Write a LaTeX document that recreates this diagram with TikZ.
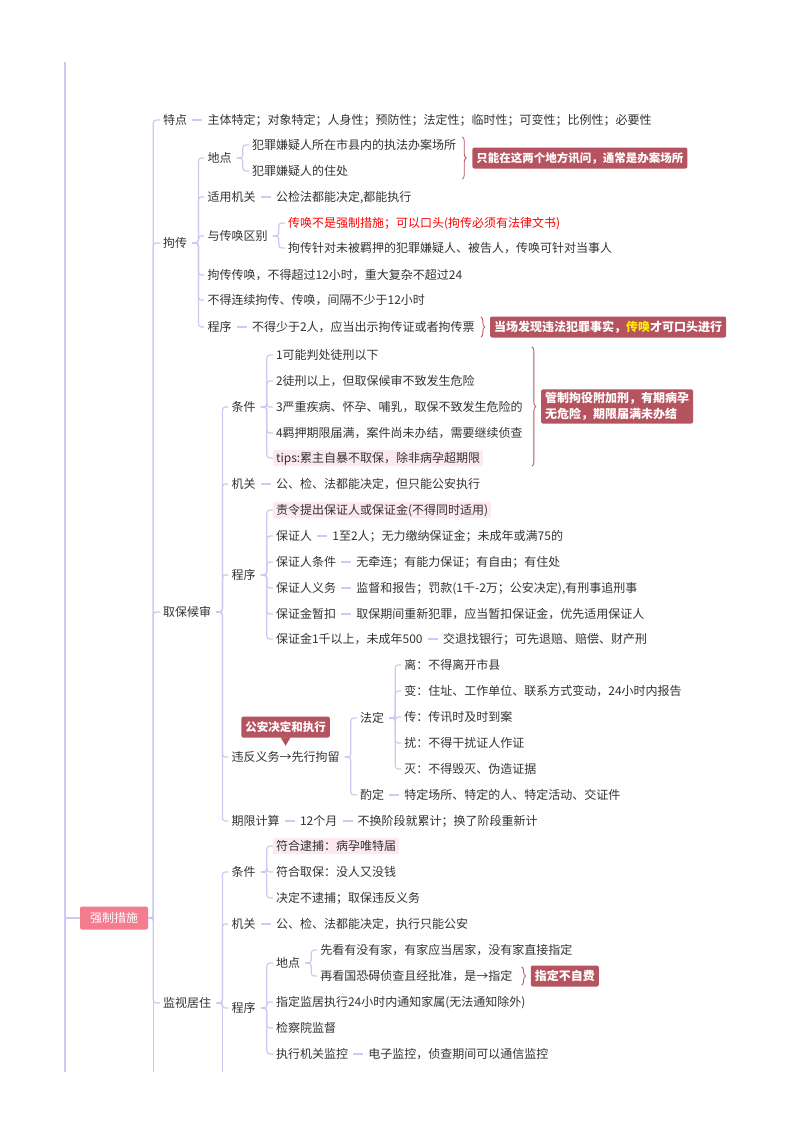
\documentclass[tikz,border=0pt]{standalone}
\usepackage{fontspec}
\setmainfont{Noto Sans CJK SC}
\usetikzlibrary{decorations.pathreplacing,calc}
\definecolor{lnc}{RGB}{206,201,242}
\definecolor{tc}{RGB}{51,51,51}
\definecolor{rootc}{RGB}{243,124,143}
\definecolor{callc}{RGB}{181,83,95}
\definecolor{hl}{RGB}{253,234,240}
\definecolor{yl}{RGB}{255,236,0}
\definecolor{rd}{RGB}{255,0,0}
\newcommand\kid[5][t]{\path (#2.east) ++(14,0) coordinate (kidtmp); \node[#1] (#3) at (kidtmp |- 0,#4) {#5};}
\begin{document}
\begin{tikzpicture}[x=1pt,y=-1pt,
 t/.style={anchor=west, inner xsep=3pt, inner ysep=2pt, text height=10.5pt, text depth=1.5pt, text=tc, font=\fontsize{12}{14}\selectfont},
 hlt/.style={t, fill=hl},
 cn/.style={draw=lnc, line width=1.2pt, rounded corners=3pt, shorten <=2pt},
 one/.style={draw=lnc, line width=1.2pt, shorten <=2pt, shorten >=2pt},
 spine/.style={draw=lnc, line width=1.2pt},
 rootbox/.style={fill=rootc, text=white, font=\fontsize{12}{14}\selectfont, rounded corners=2pt, inner sep=0pt, minimum width=68pt, minimum height=23pt, text height=10.5pt, text depth=1.5pt},
 callbase/.style={fill=callc, text=white, font=\bfseries\fontsize{12}{16}\selectfont, rounded corners=2pt, inner xsep=4pt, anchor=west},
 callout/.style={callbase, inner ysep=4.5pt, text height=10.5pt, text depth=1.5pt},
 br/.style={draw=callc, line width=0.8pt, decorate, decoration={brace, amplitude=4pt}},
]
\fill[white] (0,0) rectangle (800,1132);
\useasboundingbox (0,0) rectangle (800,1132);

% outer spine and root
\coordinate (ltop) at (65,62);
\coordinate (lbot) at (65,1072);
\coordinate (lroot) at (65,918);
\draw[spine, line width=1.6pt] (ltop) -- (lbot);
\node[rootbox] (root) at (114,918) {强制措施};
\draw[spine] (lroot) -- (root.west);
\path (root.east) ++(5,0) coordinate (rsx);
\coordinate (rsb) at (153,1072);
\draw[spine] (root.east) -- (rsx) -- (rsx |- rsb);

% level 1
\node[t] (tedian) at (160,120) {特点};
\node[t] (jc) at (160,243) {拘传};
\node[t] (qb) at (160,612) {取保候审};
\node[t] (js) at (160,1003) {监视居住};
\foreach \c in {tedian,jc,qb,js}{\draw[cn, shorten <=0pt] (root.east) -- ++(5,0) |- (\c.west);}

% 特点
\kid{tedian}{td1}{120}{主体特定；对象特定；人身性；预防性；法定性；临时性；可变性；比例性；必要性}
\draw[one] (tedian.east) -- (td1.west);

% 拘传
\kid{jc}{jcdd}{158}{地点}
\kid{jc}{jcjg}{197}{适用机关}
\kid{jc}{jcqb}{236}{与传唤区别}
\kid{jc}{jc4}{275}{拘传传唤，不得超过12小时，重大复杂不超过24}
\kid{jc}{jc5}{300}{不得连续拘传、传唤，间隔不少于12小时}
\kid{jc}{jccx}{327}{程序}
\foreach \c in {jcdd,jcjg,jcqb,jc4,jc5,jccx}{\draw[cn] (jc.east) -- ++(8,0) |- (\c.west);}

\kid{jcdd}{dd1}{145}{犯罪嫌疑人所在市县内的执法办案场所}
\kid{jcdd}{dd2}{171}{犯罪嫌疑人的住处}
\foreach \c in {dd1,dd2}{\draw[cn] (jcdd.east) -- ++(8,0) |- (\c.west);}
\path ([xshift=3pt]dd1.north east) coordinate (b1a) (b1a |- dd2.south) coordinate (b1b);
\draw[br] (b1a) -- (b1b);
\node[callout, font=\bfseries\fontsize{11.5}{16}\selectfont] (co1) at ($(b1a)!0.5!(b1b)+(10,0)$) {只能在这两个地方讯问，通常是办案场所};

\kid{jcjg}{jg1}{197}{公检法都能决定,都能执行}
\draw[one] (jcjg.east) -- (jg1.west);

\kid{jcqb}{qb1}{223}{\textcolor{rd}{传唤不是强制措施；可以口头(拘传必须有法律文书)}}
\kid{jcqb}{qb2}{248}{拘传针对未被羁押的犯罪嫌疑人、被告人，传唤可针对当事人}
\foreach \c in {qb1,qb2}{\draw[cn] (jcqb.east) -- ++(8,0) |- (\c.west);}

\kid{jccx}{cx1}{327}{不得少于2人，应当出示拘传证或者拘传票}
\draw[one] (jccx.east) -- (cx1.west);
\path ([xshift=3pt,yshift=2pt]cx1.north east) coordinate (b2a) ([xshift=3pt,yshift=-2pt]cx1.south east) coordinate (b2b);
\draw[br] (b2a) -- (b2b);
\node[callout] (co2) at ($(b2a)!0.5!(b2b)+(9,0)$) {当场发现违法犯罪事实，\textcolor{yl}{传唤}才可口头进行};

% 取保候审
\kid{qb}{qbtj}{407}{条件}
\kid{qb}{qbjg}{484}{机关}
\kid{qb}{qbcx}{575}{程序}
\kid{qb}{qbwf}{757}{违反义务→先行拘留}
\kid{qb}{qbqx}{821}{期限计算}
\foreach \c in {qbtj,qbjg,qbcx,qbwf,qbqx}{\draw[cn] (qb.east) -- ++(8,0) |- (\c.west);}

\kid{qbtj}{tj1}{355}{1可能判处徒刑以下}
\kid{qbtj}{tj2}{381}{2徒刑以上，但取保候审不致发生危险}
\kid{qbtj}{tj3}{407}{3严重疾病、怀孕、哺乳，取保不致发生危险的}
\kid{qbtj}{tj4}{433}{4羁押期限届满，案件尚未办结，需要继续侦查}
\kid[hlt]{qbtj}{tj5}{458}{tips:累主自暴不取保，除非病孕超期限}
\foreach \c in {tj1,tj2,tj3,tj4,tj5}{\draw[cn] (qbtj.east) -- ++(8,0) |- (\c.west);}
\path ([xshift=6pt]tj3.east) coordinate (b3x);
\path (b3x |- tj1.north) coordinate (b3a) (b3x |- tj5.south) coordinate (b3b);
\draw[br] (b3a) -- (b3b);
\node[callbase, align=left, inner ysep=3pt] (co3) at ($(b3a)!0.5!(b3b)+(9,0)$) {管制拘役附加刑，有期病孕\\无危险，期限届满未办结};

\kid{qbjg}{jg2}{484}{公、检、法都能决定，但只能公安执行}
\draw[one] (qbjg.east) -- (jg2.west);

\kid[hlt]{qbcx}{pa}{510}{责令提出保证人或保证金(不得同时适用)}
\kid{qbcx}{pb}{536}{保证人}
\kid{qbcx}{pc}{562}{保证人条件}
\kid{qbcx}{pd}{588}{保证人义务}
\kid{qbcx}{pe}{614}{保证金暂扣}
\kid{qbcx}{pf}{639}{保证金1千以上，未成年500}
\foreach \c in {pa,pb,pc,pd,pe,pf}{\draw[cn] (qbcx.east) -- ++(8,0) |- (\c.west);}
\kid{pb}{pb1}{536}{1至2人；无力缴纳保证金；未成年或满75的}
\kid{pc}{pc1}{562}{无牵连；有能力保证；有自由；有住处}
\kid{pd}{pd1}{588}{监督和报告；罚款(1千-2万；公安决定),有刑事追刑事}
\kid{pe}{pe1}{614}{取保期间重新犯罪，应当暂扣保证金，优先适用保证人}
\kid{pf}{pf1}{639}{交退找银行；可先退赔、赔偿、财产刑}
\foreach \p/\c in {pb/pb1,pc/pc1,pd/pd1,pe/pe1,pf/pf1}{\draw[one] (\p.east) -- (\c.west);}

\kid{qbwf}{fd}{718}{法定}
\kid{qbwf}{zd}{795}{酌定}
\foreach \c in {fd,zd}{\draw[cn] (qbwf.east) -- ++(8,0) |- (\c.west);}
\kid{fd}{f1}{665}{离：不得离开市县}
\kid{fd}{f2}{691}{变：住址、工作单位、联系方式变动，24小时内报告}
\kid{fd}{f3}{717}{传：传讯时及时到案}
\kid{fd}{f4}{743}{扰：不得干扰证人作证}
\kid{fd}{f5}{769}{灭：不得毁灭、伪造证据}
\foreach \c in {f1,f2,f3,f4,f5}{\draw[cn] (fd.east) -- ++(8,0) |- (\c.west);}
\kid{zd}{zd1}{795}{特定场所、特定的人、特定活动、交证件}
\draw[one] (zd.east) -- (zd1.west);
\node[callout, anchor=south, font=\bfseries\fontsize{11.5}{16}\selectfont] (co4) at ([yshift=11pt]qbwf.north) {公安决定和执行};
\fill[callc] ([xshift=-5pt,yshift=0.5pt]co4.south) -- ([yshift=-8pt]co4.south) -- ([xshift=5pt,yshift=0.5pt]co4.south) -- cycle;

\kid{qbqx}{qx1}{821}{12个月}
\kid{qx1}{qx2}{821}{不换阶段就累计；换了阶段重新计}
\draw[one] (qbqx.east) -- (qx1.west);
\draw[one] (qx1.east) -- (qx2.west);

% 监视居住
\kid{js}{jstj}{872}{条件}
\kid{js}{jsjg}{924}{机关}
\kid{js}{jscx}{1008}{程序}
\foreach \c in {jstj,jsjg,jscx}{\draw[cn] (js.east) -- ++(8,0) |- (\c.west);}
\path (js.east) ++(8,0) coordinate (jsx);
\coordinate (jsb) at (0,1072);
\draw[spine] (jsx) -- (jsx |- jsb);

\kid[hlt]{jstj}{s1}{846}{符合逮捕：病孕唯特届}
\kid{jstj}{s2}{872}{符合取保：没人又没钱}
\kid{jstj}{s3}{898}{决定不逮捕；取保违反义务}
\foreach \c in {s1,s2,s3}{\draw[cn] (jstj.east) -- ++(8,0) |- (\c.west);}

\kid{jsjg}{sg1}{924}{公、检、法都能决定，执行只能公安}
\draw[one] (jsjg.east) -- (sg1.west);

\kid{jscx}{sdd}{963}{地点}
\kid{jscx}{sc2}{1002}{指定监居执行24小时内通知家属(无法通知除外)}
\kid{jscx}{sc3}{1028}{检察院监督}
\kid{jscx}{sc4}{1054}{执行机关监控}
\foreach \c in {sdd,sc2,sc3,sc4}{\draw[cn] (jscx.east) -- ++(8,0) |- (\c.west);}
\kid{sdd}{sd1}{950}{先看有没有家，有家应当居家，没有家直接指定}
\kid{sdd}{sd2}{976}{再看国恐碍侦查且经批准，是→指定}
\foreach \c in {sd1,sd2}{\draw[cn] (sdd.east) -- ++(8,0) |- (\c.west);}
\path ([xshift=6pt,yshift=1pt]sd2.north east) coordinate (b4a) ([xshift=6pt,yshift=-1pt]sd2.south east) coordinate (b4b);
\draw[br] (b4a) -- (b4b);
\node[callout] (co5) at ($(b4a)!0.5!(b4b)+(9,0)$) {指定不自费};
\kid{sc4}{sc41}{1054}{电子监控，侦查期间可以通信监控}
\draw[one] (sc4.east) -- (sc41.west);
\end{tikzpicture}
\end{document}
